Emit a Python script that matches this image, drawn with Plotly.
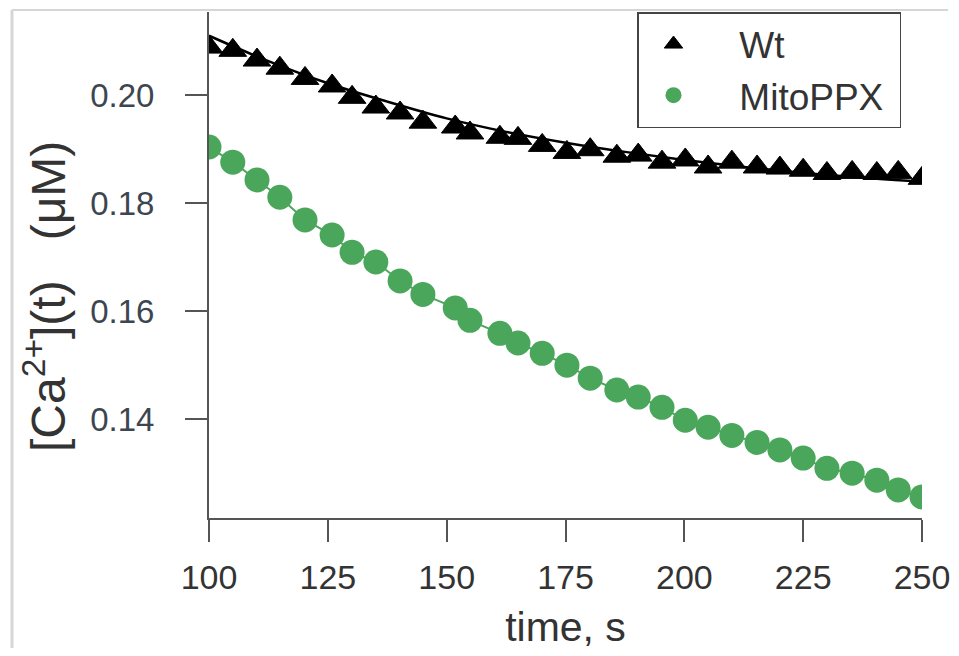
import plotly.graph_objects as go

# ---- data ----
time_s = [100.0, 105.0, 110.1, 114.9, 120.2, 125.9, 130.1, 135.1, 140.2, 145.0,
          151.8, 154.9, 161.2, 165.0, 170.1, 175.3, 180.2, 185.8, 190.3, 195.3,
          200.2, 205.0, 210.0, 215.3, 220.1, 225.0, 230.0, 235.3, 240.5, 245.0, 250.0]

wt_ca = [0.2089, 0.2083, 0.2065, 0.2050, 0.2031, 0.2017, 0.1996, 0.1978, 0.1967, 0.1950,
         0.1941, 0.1930, 0.1922, 0.1920, 0.1907, 0.1894, 0.1899, 0.1887, 0.1889, 0.1876,
         0.1880, 0.1867, 0.1876, 0.1867, 0.1865, 0.1861, 0.1855, 0.1857, 0.1855, 0.1857, 0.1846]

mito_ca = [0.1904, 0.1876, 0.1843, 0.1811, 0.1769, 0.1741, 0.1709, 0.1691, 0.1656, 0.1631,
           0.1606, 0.1583, 0.1559, 0.1541, 0.1522, 0.1500, 0.1476, 0.1454, 0.1441, 0.1422,
           0.1398, 0.1385, 0.1370, 0.1357, 0.1343, 0.1328, 0.1309, 0.1300, 0.1287, 0.1269, 0.1256]

fit_time = [100, 112.5, 125, 137.5, 150, 162.5, 175, 187.5, 200, 212.5, 225, 237.5, 250]
wt_fit = [0.2110, 0.2063, 0.2022, 0.1988, 0.1957, 0.1932, 0.1912, 0.1895, 0.1880, 0.1867,
          0.1856, 0.1847, 0.1840]

x_ticks = [100, 125, 150, 175, 200, 225, 250]
y_ticks = [0.14, 0.16, 0.18, 0.20]
y_tick_labels = ["0.14", "0.16", "0.18", "0.20"]

GREEN = "#4aa65b"
FONT = "Liberation Sans, Arial, sans-serif"

fig = go.Figure()

fig.add_trace(go.Scatter(
    x=fit_time, y=wt_fit, mode="lines",
    line=dict(color="black", width=2.5, shape="spline"),
    showlegend=False, hoverinfo="skip"))

fig.add_trace(go.Scatter(
    x=time_s, y=mito_ca, mode="lines",
    line=dict(color=GREEN, width=2),
    showlegend=False, hoverinfo="skip"))

fig.add_trace(go.Scatter(
    x=time_s, y=wt_ca, mode="markers", name="   Wt", legendgroup="a",
    marker=dict(symbol="triangle-up", size=24, color="black",
                line=dict(color="black", width=1))))

fig.add_trace(go.Scatter(
    x=time_s, y=mito_ca, mode="markers", name="   MitoPPX ", legendgroup="b",
    marker=dict(symbol="circle", size=25, color=GREEN)))

axis_common = dict(
    showline=True, linecolor="#555555", linewidth=2,
    ticks="outside", ticklen=22, tickwidth=1.5, tickcolor="#555555",
    showgrid=False, zeroline=False, mirror=False,
)

fig.update_xaxes(
    range=[100, 250], tickvals=x_ticks,
    tickfont=dict(family=FONT, size=34, color="#333333"),
    ticklabelstandoff=6,
    title=dict(text="time, s", font=dict(family=FONT, size=41, color="#333333"), standoff=18),
    **axis_common)

fig.update_yaxes(
    range=[0.1217, 0.2154], tickvals=y_ticks, ticktext=y_tick_labels,
    tickfont=dict(family=FONT, size=33, color="#3d4650"),
    ticklabelstandoff=24,
    **axis_common)

# page body has an 8px margin: plot area sits at x 209..922, y 12..518 on the page
fig.update_layout(
    width=951, height=648,
    margin=dict(l=201, r=37, t=4, b=138),
    paper_bgcolor="white", plot_bgcolor="white",
    legend=dict(
        x=0.6003, y=1.0, xanchor="left", yanchor="top",
        bgcolor="white", bordercolor="#444444", borderwidth=1.5,
        font=dict(family=FONT, size=37, color="#333333"),
        itemwidth=60, tracegroupgap=0, traceorder="grouped",
    ),
    annotations=[
        dict(text="[Ca<sup>2+</sup>](t)   (μM)", textangle=-90, showarrow=False,
             xref="paper", yref="paper", x=-0.2300, y=0.4368,
             xanchor="center", yanchor="middle",
             font=dict(family=FONT, size=48, color="#333333")),
    ],
    shapes=[
        dict(type="line", xref="paper", yref="paper", x0=-0.2763, x1=1.0365, y0=1.004, y1=1.004,
             line=dict(color="#d6d6d6", width=2)),
        dict(type="line", xref="paper", yref="paper", x0=-0.2763, x1=-0.2763, y0=1.004, y1=-0.257,
             line=dict(color="#d6d6d6", width=3)),
    ],
)

fig.write_html("out.html")
